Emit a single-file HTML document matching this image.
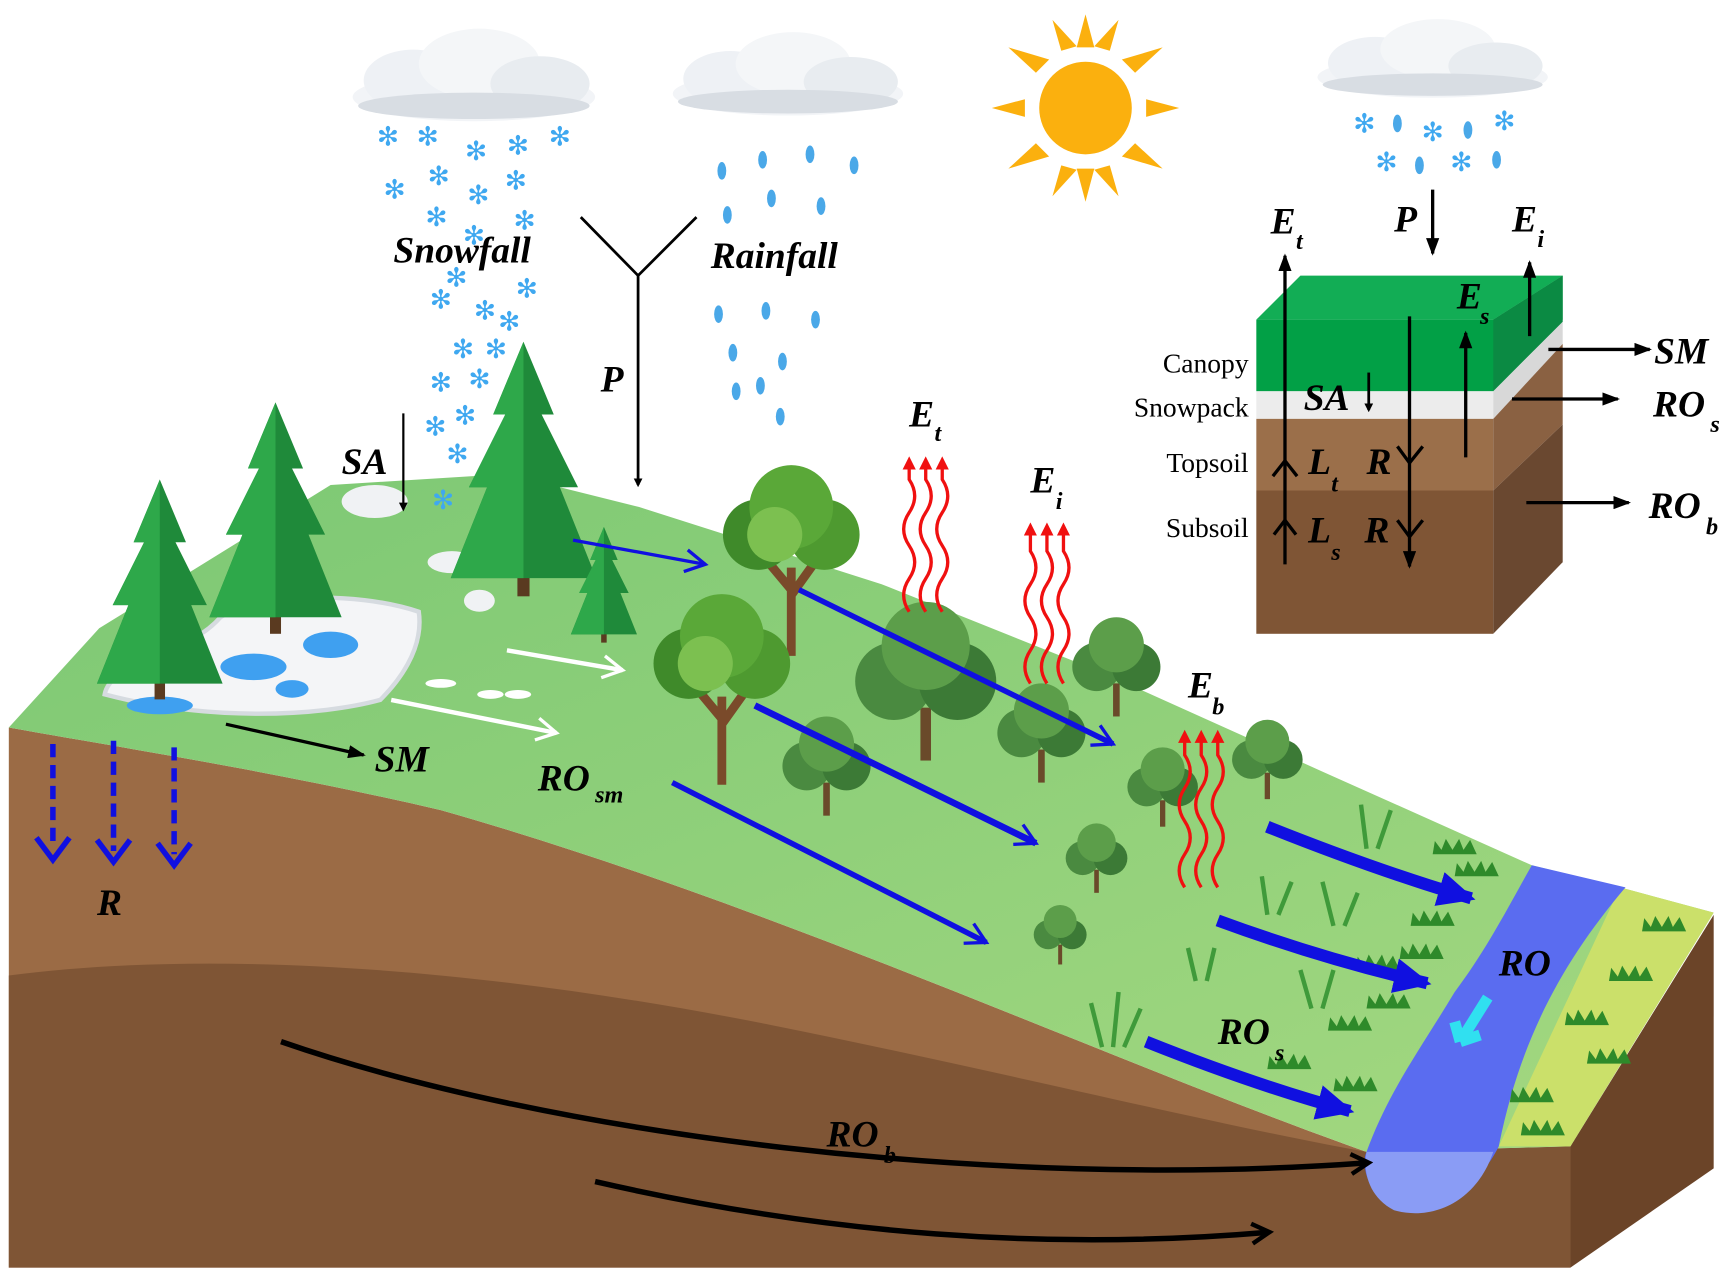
<!DOCTYPE html>
<html><head><meta charset="utf-8"><style>
html,body{margin:0;padding:0;background:#fff;width:1728px;height:1272px;overflow:hidden}
svg{display:block}
text{font-family:"Liberation Serif",serif;font-style:italic;font-weight:bold;fill:#000}
.n{font-style:normal;font-weight:normal}
.sf{fill:#3fa8f0;font-family:"DejaVu Sans",sans-serif;font-style:normal;font-weight:normal;font-size:24px}
</style></head><body>
<svg width="1728" height="1272" viewBox="0 0 1568 1154" preserveAspectRatio="none" xmlns="http://www.w3.org/2000/svg">
<defs>
<marker id="ab" markerWidth="8" markerHeight="8" refX="6" refY="4" orient="auto" markerUnits="userSpaceOnUse"><path d="M0,0 L8,4 L0,8 z" fill="#000"/></marker>
<marker id="abig" markerWidth="16" markerHeight="12" refX="14" refY="6" orient="auto" markerUnits="userSpaceOnUse"><path d="M0,0 L16,6 L0,12 z" fill="#000"/></marker>
<marker id="ob" markerWidth="22" markerHeight="22" refX="16" refY="11" orient="auto" markerUnits="userSpaceOnUse"><path d="M2,2 L18,11 L2,20" fill="none" stroke="#000" stroke-width="4"/></marker>
<marker id="bl" markerWidth="40" markerHeight="40" refX="30" refY="20" orient="auto" markerUnits="userSpaceOnUse"><path d="M0,4 L34,20 L0,36 z" fill="#1010e0"/></marker>
<marker id="blt" markerWidth="24" markerHeight="24" refX="20" refY="12" orient="auto" markerUnits="userSpaceOnUse"><path d="M2,2 L20,12 L2,22" fill="none" stroke="#1010e0" stroke-width="3"/></marker>
<marker id="wh" markerWidth="24" markerHeight="24" refX="20" refY="12" orient="auto" markerUnits="userSpaceOnUse"><path d="M2,2 L20,12 L2,22" fill="none" stroke="#fff" stroke-width="3"/></marker>
<marker id="rd" markerWidth="12" markerHeight="12" refX="6" refY="6" orient="auto" markerUnits="userSpaceOnUse"><path d="M0,0 L12,6 L0,12 z" fill="#f01010"/></marker>
<linearGradient id="gg" x1="0" y1="0" x2="1" y2="1"><stop offset="0" stop-color="#7cc874"/><stop offset="1" stop-color="#a4d880"/></linearGradient>
<g id="cloud"><ellipse cx="0" cy="0" rx="110" ry="22" fill="#f2f4f7"/><ellipse cx="-55" cy="-15" rx="45" ry="28" fill="#eef1f5"/><ellipse cx="5" cy="-30" rx="55" ry="32" fill="#f4f6f8"/><ellipse cx="60" cy="-12" rx="45" ry="25" fill="#e8ecf0"/><ellipse cx="0" cy="8" rx="105" ry="12" fill="#d8dde3"/></g>
<g id="pine"><rect x="-5" y="-20" width="10" height="30" fill="#5a3a20"/><path d="M0,-200 L-25,-140 L-15,-140 L-45,-80 L-30,-80 L-60,-5 L60,-5 L30,-80 L45,-80 L15,-140 L25,-140 z" fill="#1f8a3a"/><path d="M0,-200 L-25,-140 L-15,-140 L-45,-80 L-30,-80 L-60,-5 L0,-5 z" fill="#2ea84a"/></g>
<g id="tree"><path d="M0,0 L0,-80 M0,-60 L-25,-90 M0,-55 L25,-90" stroke="#7a4a2a" stroke-width="8" fill="none"/><circle cx="-30" cy="-110" r="32" fill="#3f8a2a"/><circle cx="30" cy="-110" r="32" fill="#4e9a30"/><circle cx="0" cy="-135" r="38" fill="#5aa838"/><circle cx="-15" cy="-110" r="25" fill="#7cc050"/></g>
<g id="bush"><rect x="-3" y="-30" width="6" height="30" fill="#6a4a2a"/><circle cx="-18" cy="-45" r="22" fill="#4a8a40"/><circle cx="18" cy="-45" r="22" fill="#3c7a36"/><circle cx="0" cy="-65" r="25" fill="#5c9e4a"/></g>
<g id="grass"><path d="M-20,0 L-18,-12 L-12,-4 L-8,-14 L-2,-4 L4,-14 L8,-4 L14,-13 L20,0 z" fill="#2e8a2a"/></g>
</defs>

<!-- soil front -->
<path d="M8,660 L8,1150 L1425,1150 L1425,1040 L1240,1045 C1000,960 700,820 400,735 C250,700 120,680 8,660 z" fill="#9b6b45"/>
<path d="M8,885 C200,860 450,880 700,930 C900,970 1100,1020 1240,1045 L1425,1040 L1425,1150 L8,1150 z" fill="#7f5535"/>
<path d="M1425,1040 L1555,830 L1555,1060 L1425,1150 z" fill="#6b4428"/>
<!-- green top -->
<path d="M8,660 L90,570 L300,440 L460,430 L580,460 L800,530 L1000,610 L1200,700 L1390,785 L1470,805 L1555,828 L1425,1040 L1240,1045 C1000,960 700,820 400,735 C250,700 120,680 8,660 z" fill="url(#gg)"/>
<path d="M1470,805 L1555,828 L1425,1040 L1360,1040 z" fill="#cbe06a"/>
<!-- river -->
<path d="M1390,785 L1475,805 C1420,870 1380,940 1360,1040 C1340,1080 1300,1105 1260,1095 C1240,1080 1235,1055 1240,1045 C1260,990 1290,950 1320,900 C1350,860 1370,820 1390,785 z" fill="#5a6cf0"/>
<path d="M1240,1045 L1355,1045 C1340,1090 1300,1108 1265,1098 C1240,1085 1237,1060 1240,1045 z" fill="#8a9cf5"/>
<path d="M1350,905 L1325,945 M1325,945 l-5,-18 M1325,945 l18,-6" stroke="#30e0f0" stroke-width="10"/>

<!-- snow patches -->
<path d="M95,630 C100,600 170,595 200,560 C230,540 320,535 380,555 C385,590 360,620 345,635 C290,650 190,655 95,630 z" fill="#f4f5f7" stroke="#d6dbe0" stroke-width="4"/>
<ellipse cx="230" cy="605" rx="30" ry="12" fill="#3fa0f0"/><ellipse cx="300" cy="585" rx="25" ry="12" fill="#3fa0f0"/><ellipse cx="265" cy="625" rx="15" ry="8" fill="#3fa0f0"/><ellipse cx="145" cy="640" rx="30" ry="8" fill="#3fa0f0"/>
<ellipse cx="340" cy="455" rx="30" ry="15" fill="#f0f2f4"/><ellipse cx="410" cy="510" rx="22" ry="10" fill="#f0f2f4"/><ellipse cx="435" cy="545" rx="14" ry="10" fill="#f0f2f4"/>
<ellipse cx="400" cy="620" rx="14" ry="4" fill="#fff"/><ellipse cx="445" cy="630" rx="12" ry="4" fill="#fff"/><ellipse cx="470" cy="630" rx="12" ry="4" fill="#fff"/>

<!-- trees -->
<use href="#pine" x="145" y="625" transform="translate(145,625) scale(0.95) translate(-145,-625)"/>
<use href="#pine" x="250" y="565"/>
<use href="#pine" x="475" y="530" transform="translate(475,530) scale(1.1) translate(-475,-530)"/>
<use href="#pine" x="548" y="578" transform="translate(548,578) scale(0.5) translate(-548,-578)"/>
<use href="#tree" x="718" y="595"/>
<use href="#tree" x="655" y="712"/>
<use href="#bush" x="840" y="690" transform="translate(840,690) scale(1.6) translate(-840,-690)"/>
<use href="#bush" x="1013" y="650"/>
<use href="#bush" x="945" y="710"/>
<use href="#bush" x="750" y="740"/>
<use href="#bush" x="1055" y="750" transform="translate(1055,750) scale(0.8) translate(-1055,-750)"/>
<use href="#bush" x="1150" y="725" transform="translate(1150,725) scale(0.8) translate(-1150,-725)"/>
<use href="#bush" x="995" y="810" transform="translate(995,810) scale(0.7) translate(-995,-810)"/>
<use href="#bush" x="962" y="875" transform="translate(962,875) scale(0.6) translate(-962,-875)"/>
<g>
<use href="#grass" x="1320" y="775"/><use href="#grass" x="1340" y="795"/><use href="#grass" x="1300" y="840"/><use href="#grass" x="1290" y="870"/><use href="#grass" x="1250" y="880"/><use href="#grass" x="1260" y="915"/><use href="#grass" x="1225" y="935"/><use href="#grass" x="1170" y="970"/><use href="#grass" x="1230" y="990"/>
<use href="#grass" x="1510" y="845"/><use href="#grass" x="1480" y="890"/><use href="#grass" x="1440" y="930"/><use href="#grass" x="1460" y="965"/><use href="#grass" x="1390" y="1000"/><use href="#grass" x="1400" y="1030"/>
</g>
<path d="M1000,950 L990,910 M1010,950 L1015,900 M1020,950 L1035,915 M1240,770 L1235,730 M1250,770 L1262,735 M1150,830 L1145,795 M1160,830 L1172,800 M1210,840 L1200,800 M1220,840 L1232,810 M1190,915 L1180,880 M1200,915 L1210,880 M1085,890 L1078,860 M1095,890 L1102,860" stroke="#3f9a3a" stroke-width="4"/>

<!-- clouds -->
<use href="#cloud" x="430" y="88"/>
<use href="#cloud" x="715" y="85" transform="translate(715,85) scale(0.95,0.9) translate(-715,-85)"/>
<use href="#cloud" x="1300" y="70" transform="translate(1300,70) scale(0.95,0.85) translate(-1300,-70)"/>

<!-- snowflakes -->
<g>
<text x="342" y="132" class="sf">✻</text><text x="378" y="132" class="sf">✻</text><text x="422" y="145" class="sf">✻</text><text x="460" y="140" class="sf">✻</text><text x="498" y="132" class="sf">✻</text>
<text x="348" y="180" class="sf">✻</text><text x="388" y="168" class="sf">✻</text><text x="424" y="185" class="sf">✻</text><text x="458" y="172" class="sf">✻</text>
<text x="386" y="205" class="sf">✻</text><text x="466" y="208" class="sf">✻</text><text x="420" y="222" class="sf">✻</text>
<text x="404" y="260" class="sf">✻</text><text x="468" y="270" class="sf">✻</text><text x="390" y="280" class="sf">✻</text><text x="430" y="290" class="sf">✻</text><text x="452" y="300" class="sf">✻</text>
<text x="410" y="325" class="sf">✻</text><text x="440" y="325" class="sf">✻</text><text x="390" y="355" class="sf">✻</text><text x="425" y="352" class="sf">✻</text><text x="385" y="395" class="sf">✻</text><text x="412" y="385" class="sf">✻</text><text x="405" y="420" class="sf">✻</text><text x="392" y="462" class="sf">✻</text>
<text x="1228" y="120" class="sf">✻</text><text x="1290" y="128" class="sf">✻</text><text x="1355" y="118" class="sf">✻</text><text x="1248" y="155" class="sf">✻</text><text x="1316" y="155" class="sf">✻</text>
</g>
<!-- raindrops -->
<g fill="#4aa8e8">
<ellipse cx="655" cy="155" rx="4" ry="8"/><ellipse cx="692" cy="145" rx="4" ry="8"/><ellipse cx="735" cy="140" rx="4" ry="8"/><ellipse cx="775" cy="150" rx="4" ry="8"/>
<ellipse cx="660" cy="195" rx="4" ry="8"/><ellipse cx="700" cy="180" rx="4" ry="8"/><ellipse cx="745" cy="187" rx="4" ry="8"/>
<ellipse cx="652" cy="285" rx="4" ry="8"/><ellipse cx="695" cy="282" rx="4" ry="8"/><ellipse cx="740" cy="290" rx="4" ry="8"/><ellipse cx="665" cy="320" rx="4" ry="8"/><ellipse cx="710" cy="328" rx="4" ry="8"/><ellipse cx="668" cy="355" rx="4" ry="8"/><ellipse cx="690" cy="350" rx="4" ry="8"/><ellipse cx="708" cy="378" rx="4" ry="8"/>
<ellipse cx="1268" cy="112" rx="4" ry="8"/><ellipse cx="1332" cy="118" rx="4" ry="8"/><ellipse cx="1288" cy="150" rx="4" ry="8"/><ellipse cx="1358" cy="145" rx="4" ry="8"/>
</g>

<!-- sun -->
<g transform="translate(985,98)">
<circle r="42" fill="#fbb00e"/>
<g fill="#fbb00e">
<path d="M-8,-55 L0,-85 L8,-55 z"/><path d="M-8,55 L0,85 L8,55 z" /><path d="M-55,-8 L-85,0 L-55,8 z"/><path d="M55,-8 L85,0 L55,8 z"/>
<path d="M-45,-32 L-70,-55 L-33,-44 z"/><path d="M45,-32 L70,-55 L33,-44 z"/><path d="M-45,32 L-70,55 L-33,44 z"/><path d="M45,32 L70,55 L33,44 z"/>
<path d="M-22,-52 L-30,-80 L-8,-56 z"/><path d="M22,-52 L30,-80 L8,-56 z"/><path d="M-22,52 L-30,80 L-8,56 z"/><path d="M22,52 L30,80 L8,56 z"/>
</g></g>

<!-- labels main -->
<text x="357" y="238" font-size="34">Snowfall</text>
<text x="645" y="243" font-size="34">Rainfall</text>
<path d="M527,197 L579,250 L632,197 M579,250 L579,440" stroke="#000" stroke-width="2.5" fill="none" marker-end="url(#ab)"/>
<text x="545" y="355" font-size="34">P</text>
<text x="310" y="430" font-size="34">SA</text>
<line x1="366" y1="375" x2="366" y2="462" stroke="#000" stroke-width="2" marker-end="url(#ab)"/>
<text x="825" y="387" font-size="34">E</text><text x="848" y="400" font-size="22">t</text>
<text x="935" y="447" font-size="34">E</text><text x="958" y="462" font-size="22">i</text>
<text x="1078" y="633" font-size="34">E</text><text x="1100" y="648" font-size="22">b</text>
<text x="340" y="700" font-size="34">SM</text>
<line x1="205" y1="657" x2="330" y2="685" stroke="#000" stroke-width="3" marker-end="url(#abig)"/>
<text x="488" y="717" font-size="34">RO</text><text x="540" y="728" font-size="22">sm</text>
<text x="88" y="830" font-size="34">R</text>
<text x="1360" y="885" font-size="34">RO</text>
<text x="1105" y="947" font-size="34">RO</text><text x="1157" y="962" font-size="22">s</text>
<text x="750" y="1040" font-size="34">RO</text><text x="802" y="1055" font-size="22">b</text>

<g stroke="#1010e0" stroke-width="5" stroke-dasharray="12,7" fill="none">
<line x1="48" y1="675" x2="48" y2="770"/><line x1="103" y1="672" x2="103" y2="772"/><line x1="158" y1="678" x2="158" y2="775"/>
</g>
<g stroke="#1010e0" stroke-width="5" fill="none">
<path d="M33,760 L48,780 L63,760"/><path d="M88,762 L103,782 L118,762"/><path d="M143,765 L158,785 L173,765"/>
</g>

<g stroke="#fff" stroke-width="4" fill="none">
<line x1="460" y1="590" x2="565" y2="608" marker-end="url(#wh)"/>
<line x1="355" y1="635" x2="505" y2="665" marker-end="url(#wh)"/>
</g>
<g stroke="#1010e0" fill="none">
<line x1="520" y1="490" x2="640" y2="512" stroke-width="3" marker-end="url(#blt)"/>
<line x1="725" y1="535" x2="1010" y2="675" stroke-width="5" marker-end="url(#blt)"/>
<line x1="685" y1="640" x2="940" y2="765" stroke-width="6" marker-end="url(#blt)"/>
<line x1="610" y1="710" x2="895" y2="855" stroke-width="5" marker-end="url(#blt)"/>
<path d="M1150,750 Q1250,790 1335,815" stroke-width="11" marker-end="url(#bl)"/>
<path d="M1105,835 Q1200,870 1295,892" stroke-width="11" marker-end="url(#bl)"/>
<path d="M1040,945 Q1140,985 1225,1008" stroke-width="11" marker-end="url(#bl)"/>
</g>
<g stroke="#000" stroke-width="5" fill="none">
<path d="M255,945 C500,1030 900,1080 1240,1055" marker-end="url(#ob)"/>
<path d="M540,1072 C750,1120 950,1135 1150,1118" marker-end="url(#ob)"/>
</g>
<g stroke="#f01010" stroke-width="3" fill="none">
<path d="M825,555 q-10,-15 0,-30 q10,-15 0,-30 q-10,-15 0,-30 q10,-15 0,-30 L825,420" marker-end="url(#rd)"/>
<path d="M840,555 q-10,-15 0,-30 q10,-15 0,-30 q-10,-15 0,-30 q10,-15 0,-30 L840,420" marker-end="url(#rd)"/>
<path d="M855,555 q-10,-15 0,-30 q10,-15 0,-30 q-10,-15 0,-30 q10,-15 0,-30 L855,420" marker-end="url(#rd)"/>
<path d="M935,620 q-10,-15 0,-30 q10,-15 0,-30 q-10,-15 0,-30 q10,-15 0,-30 L935,480" marker-end="url(#rd)"/>
<path d="M950,620 q-10,-15 0,-30 q10,-15 0,-30 q-10,-15 0,-30 q10,-15 0,-30 L950,480" marker-end="url(#rd)"/>
<path d="M965,620 q-10,-15 0,-30 q10,-15 0,-30 q-10,-15 0,-30 q10,-15 0,-30 L965,480" marker-end="url(#rd)"/>
<path d="M1075,805 q-10,-15 0,-30 q10,-15 0,-30 q-10,-15 0,-30 q10,-15 0,-30 L1075,668" marker-end="url(#rd)"/>
<path d="M1090,805 q-10,-15 0,-30 q10,-15 0,-30 q-10,-15 0,-30 q10,-15 0,-30 L1090,668" marker-end="url(#rd)"/>
<path d="M1105,805 q-10,-15 0,-30 q10,-15 0,-30 q-10,-15 0,-30 q10,-15 0,-30 L1105,668" marker-end="url(#rd)"/>
</g>

<!-- inset block -->
<g>
<path d="M1140,290 L1180,250 L1418,250 L1355,290 z" fill="#12ad55"/>
<path d="M1140,290 L1355,290 L1418,250 L1418,290 L1355,355 L1140,355 z" fill="#02a046"/>
<path d="M1355,290 L1418,250 L1418,292 L1355,355 z" fill="#0b8a43"/>
<rect x="1140" y="355" width="215" height="25" fill="#ececec"/>
<path d="M1355,355 L1418,292 L1418,312 L1355,380 z" fill="#d8d8d8"/>
<rect x="1140" y="380" width="215" height="65" fill="#9b6f4a"/>
<path d="M1355,380 L1418,312 L1418,385 L1355,445 z" fill="#8a6142"/>
<rect x="1140" y="445" width="215" height="130" fill="#7f5535"/>
<path d="M1355,445 L1418,385 L1418,510 L1355,575 z" fill="#6a4830"/>
</g>
<g stroke="#000" stroke-width="3" fill="none">
<line x1="1166" y1="512" x2="1166" y2="232" marker-end="url(#abig)"/>
<line x1="1279" y1="287" x2="1279" y2="514" marker-end="url(#abig)"/>
<line x1="1330" y1="415" x2="1330" y2="302" marker-end="url(#abig)"/>
<line x1="1388" y1="305" x2="1388" y2="238" marker-end="url(#abig)"/>
<line x1="1300" y1="172" x2="1300" y2="230" marker-end="url(#abig)"/>
<line x1="1242" y1="338" x2="1242" y2="372" stroke-width="2.5" marker-end="url(#ab)"/>
<line x1="1405" y1="317" x2="1497" y2="317" marker-end="url(#abig)"/>
<line x1="1372" y1="362" x2="1468" y2="362" marker-end="url(#abig)"/>
<line x1="1385" y1="456" x2="1478" y2="456" marker-end="url(#abig)"/>
<path d="M1155,432 L1166,418 L1177,432 M1156,485 L1166,472 L1176,485 M1268,405 L1279,420 L1291,405 M1268,472 L1279,487 L1291,472"/>
</g>
<text x="1153" y="212" font-size="34">E</text><text x="1176" y="226" font-size="22">t</text>
<text x="1265" y="210" font-size="34">P</text>
<text x="1372" y="210" font-size="34">E</text><text x="1395" y="224" font-size="22">i</text>
<text x="1322" y="280" font-size="34">E</text><text x="1343" y="294" font-size="22">s</text>
<text x="1183" y="372" font-size="34">SA</text>
<text x="1187" y="430" font-size="34">L</text><text x="1208" y="446" font-size="22">t</text>
<text x="1240" y="430" font-size="34">R</text>
<text x="1187" y="492" font-size="34">L</text><text x="1208" y="508" font-size="22">s</text>
<text x="1238" y="492" font-size="34">R</text>
<text x="1501" y="330" font-size="34">SM</text>
<text x="1500" y="378" font-size="34">RO</text><text x="1552" y="392" font-size="22">s</text>
<text x="1496" y="470" font-size="34">RO</text><text x="1548" y="485" font-size="22">b</text>
<g font-size="25" text-anchor="end">
<text x="1133" y="338" class="n">Canopy</text>
<text x="1133" y="378" class="n">Snowpack</text>
<text x="1133" y="428" class="n">Topsoil</text>
<text x="1133" y="487" class="n">Subsoil</text>
</g>
</svg>
</body></html>
